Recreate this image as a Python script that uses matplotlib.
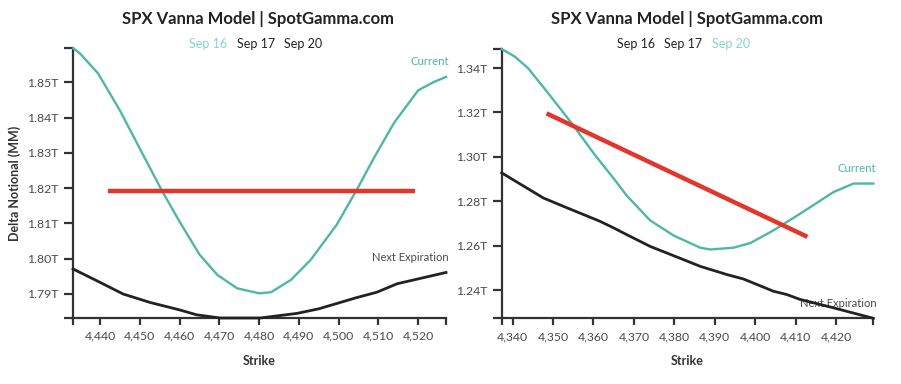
import matplotlib
matplotlib.use("Agg")
import matplotlib.pyplot as plt
from matplotlib.ticker import FuncFormatter

plt.rcParams['font.family'] = ['Lato', 'DejaVu Sans']

# ---- Data: left panel (Sep 16) ----
left_strikes = [4433.2, 4435, 4439.5, 4445, 4450, 4455.5, 4460, 4465, 4469.5, 4474.5,
                4480, 4483, 4488, 4493, 4499.5, 4504.5, 4509, 4514, 4520, 4524, 4527]
left_current = [1.8597, 1.8581, 1.8525, 1.8420, 1.8312, 1.8194, 1.8105, 1.8012, 1.7954,
                1.7916, 1.7902, 1.7905, 1.7940, 1.7997, 1.8096, 1.8194, 1.8288, 1.8386,
                1.8477, 1.8501, 1.8515]
left_next_strikes = [4433.2, 4440, 4445.8, 4452.6, 4460, 4464.3, 4470.2, 4480.3, 4489.5,
                     4495, 4504.6, 4509.6, 4514.7, 4527]
left_next = [1.7971, 1.7933, 1.7900, 1.7876, 1.7855, 1.7841, 1.7832, 1.7832, 1.7845,
             1.7858, 1.7890, 1.7905, 1.7929, 1.7961]
left_red_x = [4441.9, 4519.2]
left_red_y = [1.8193, 1.8193]
left_xticks = [4440, 4450, 4460, 4470, 4480, 4490, 4500, 4510, 4520]
left_yticks = [1.79, 1.80, 1.81, 1.82, 1.83, 1.84, 1.85]

# ---- Data: right panel (Sep 20) ----
right_strikes = [4337.3, 4340.6, 4343.8, 4348.7, 4354.5, 4360.3, 4365.2, 4368.2, 4374,
                 4379.8, 4386.4, 4388.9, 4394.6, 4398.8, 4404.5, 4411.1, 4419.4, 4424.3, 4429.2]
right_current = [1.3486, 1.3451, 1.3400, 1.3289, 1.3154, 1.3010, 1.2898, 1.2826, 1.2714,
                 1.2646, 1.2591, 1.2583, 1.2591, 1.2612, 1.2669, 1.2744, 1.2842, 1.2880, 1.2880]
right_next_strikes = [4337.3, 4347.6, 4352.6, 4361.6, 4365, 4368.2, 4374, 4382.3, 4386.4,
                      4393, 4397.1, 4404.5, 4407.8, 4411.1, 4419.4, 4429.2]
right_next = [1.2928, 1.2815, 1.2777, 1.2710, 1.2680, 1.2650, 1.2597, 1.2537, 1.2507,
              1.2470, 1.2450, 1.2395, 1.2380, 1.2358, 1.2320, 1.2273]
right_red_x = [4348.4, 4412.9]
right_red_y = [1.3196, 1.2640]
right_xticks = [4340, 4350, 4360, 4370, 4380, 4390, 4400, 4410, 4420]
right_yticks = [1.24, 1.26, 1.28, 1.30, 1.32, 1.34]

legend_labels = ["Sep 16", "Sep 17", "Sep 20"]
title = "SPX Vanna Model | SpotGamma.com"

TEAL = "#4db8a8"
TEAL_LIGHT = "#86d6cc"
RED = "#e5352a"
DARK = "#222222"
AX = "#333333"
TXT = "#4a4a4a"

fig = plt.figure(figsize=(9.01, 3.84), dpi=100)
W, H = 901, 384


def make_ax(x0, x1, ytop, ybot):
    return fig.add_axes([x0 / W, 1 - ybot / H, (x1 - x0) / W, (ybot - ytop) / H])


def style(ax, xs, ys, xticks, yticks, yfmt):
    xmin, xmax = min(xs), max(xs)
    ymin, ymax = min(ys), max(ys)
    ax.set_xlim(xmin, xmax)
    ax.set_ylim(ymin, ymax)
    for s in ['top', 'right']:
        ax.spines[s].set_visible(False)
    for s in ['left', 'bottom']:
        ax.spines[s].set_color(AX)
        ax.spines[s].set_linewidth(1.6)
    ax.set_xticks(xticks)
    ax.set_yticks(yticks)
    ax.set_xticks([xmin, xmax], minor=True)
    ax.set_yticks([ymin, ymax], minor=True)
    ax.xaxis.set_major_formatter(FuncFormatter(lambda v, p: f"{v:,.0f}"))
    ax.yaxis.set_major_formatter(FuncFormatter(lambda v, p: yfmt.format(v)))
    ax.tick_params(axis='x', which='both', length=5.2, width=1.6, color=AX,
                   labelsize=8.8, labelcolor=TXT, pad=4)
    ax.tick_params(axis='y', which='both', length=6.5, width=1.6, color=AX,
                   labelsize=8.8, labelcolor=TXT, pad=4)
    ax.tick_params(which='minor', labelleft=False, labelbottom=False)
    ax.set_facecolor('none')


def draw(ax, sx, sc, nx, nv, rx, ry):
    ax.plot(sx, sc, color=TEAL, lw=1.7, clip_on=False, zorder=3)
    ax.plot(nx, nv, color=DARK, lw=2.0, clip_on=False, zorder=3)
    ax.plot(rx, ry, color=RED, lw=3.2, solid_capstyle='butt', zorder=4)
    ax.annotate("Current", xy=(sx[-1], sc[-1]), xytext=(3, 15), textcoords='offset pixels',
                ha='right', va='center', color=TEAL, fontsize=8.2, annotation_clip=False,
                zorder=2)
    ax.annotate("Next Expiration", xy=(nx[-1], nv[-1]), xytext=(3, 15),
                textcoords='offset pixels', ha='right', va='center', color=TXT,
                fontsize=8.0, annotation_clip=False, zorder=2)


# Left panel
axL = make_ax(73, 446, 48, 318)
draw(axL, left_strikes, left_current, left_next_strikes, left_next, left_red_x, left_red_y)
style(axL, left_strikes + left_next_strikes, left_current + left_next,
      left_xticks, left_yticks, "{:.2f}T")

# Right panel
axR = make_ax(501.7, 873.3, 49, 318.3)
draw(axR, right_strikes, right_current, right_next_strikes, right_next, right_red_x, right_red_y)
style(axR, right_strikes + right_next_strikes, right_current + right_next,
      right_xticks, right_yticks, "{:.2f}T")

# Titles
fig.text(258 / W, 1 - 19 / H, title, ha='center', va='center', fontsize=12,
         fontweight='bold', color='#222222')
fig.text(687 / W, 1 - 19 / H, title, ha='center', va='center', fontsize=12,
         fontweight='bold', color='#222222')

# Legends
def legend(xs, active):
    for i, (lab, x) in enumerate(zip(legend_labels, xs)):
        fig.text(x / W, 1 - 44 / H, lab, ha='center', va='center', fontsize=9,
                 color=TEAL_LIGHT if i == active else '#222222')

legend([208, 256, 303], 0)
legend([636, 683, 731], 2)

# Axis labels
fig.text(259 / W, 1 - 361 / H, "Strike", ha='center', va='center', fontsize=9,
         fontweight='bold', color='#333333')
fig.text(687 / W, 1 - 361 / H, "Strike", ha='center', va='center', fontsize=9,
         fontweight='bold', color='#333333')
fig.text(15 / W, 1 - 183 / H, "Delta Notional (MM)", ha='center', va='center',
         rotation=90, fontsize=9, fontweight='bold', color='#333333')

fig.savefig("out.png", dpi=100, facecolor='white')
